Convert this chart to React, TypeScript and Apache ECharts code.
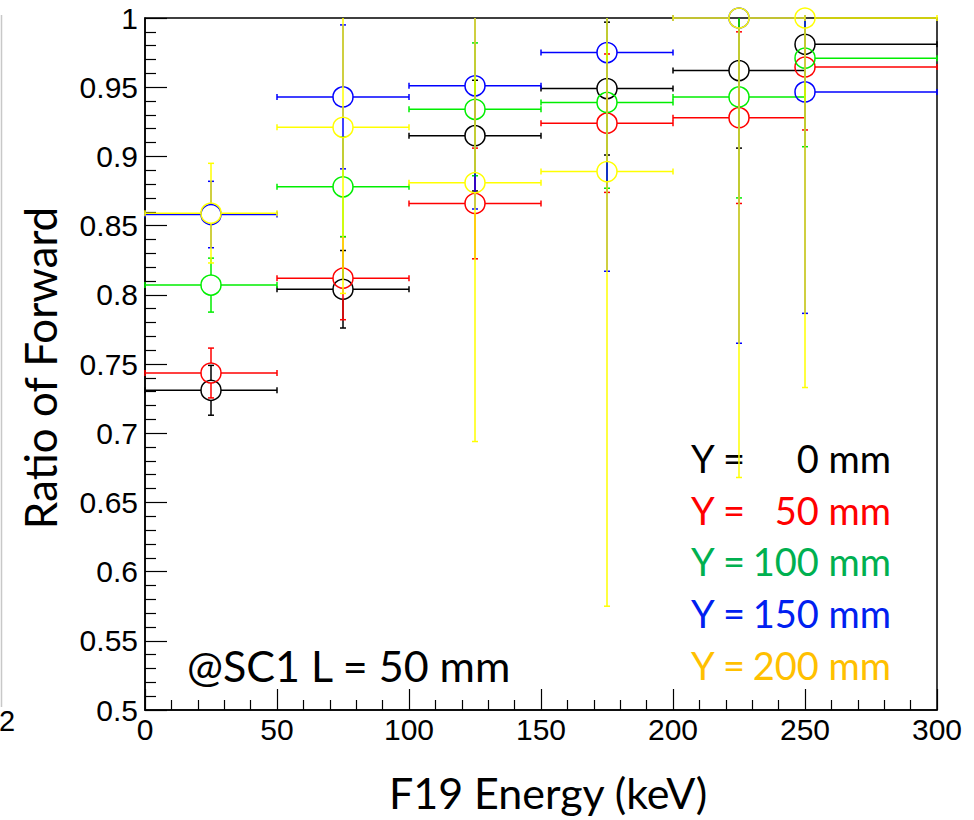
import React, { useEffect, useRef } from "react";
import * as echarts from "echarts";

// ---- data ----
const binCenters = [25, 75, 125, 175, 225, 250];
const binLow = [0, 50, 100, 150, 200, 250];
const binHigh = [50, 100, 150, 200, 250, 300];

const ratioY0 = [0.731, 0.804, 0.915, 0.949, 0.962, 0.981];
const errY0 = [0.018, 0.028, 0.04, 0.048, 0.056, 0.005];

const ratioY50 = [0.7435, 0.812, 0.866, 0.924, 0.928, 0.9646];
const errY50 = [0.018, 0.03, 0.04, 0.05, 0.062, 0.0455];

const ratioY100 = [0.807, 0.878, 0.934, 0.939, 0.943, 0.971];
const errY100 = [0.0195, 0.036, 0.048, 0.062, 0.073, 0.064];

const ratioY150 = [0.858, 0.943, 0.951, 0.975, 1.0, 0.9466];
const errY150 = [0.024, 0.052, 0.089, 0.158, 0.235, 0.16];

const ratioY200 = [0.859, 0.921, 0.881, 0.889, 1.0, 1.0];
const errY200 = [0.036, 0.12, 0.187, 0.314, 0.332, 0.267];

const seriesNames = ["Y = 0 mm", "Y = 50 mm", "Y = 100 mm", "Y = 150 mm", "Y = 200 mm"];
const legendLeft = ["Y =", "Y =", "Y =", "Y =", "Y ="];
const legendRight = ["0 mm", "50 mm", "100 mm", "150 mm", "200 mm"];
const markerColors = ["#000000", "#ff0000", "#00ee00", "#0000ff", "#ffff00"];
const legendColors = ["#000000", "#ff0000", "#00b050", "#0020f0", "#ffc000"];

const yTicksMin = 0.5;
const yTicksMax = 1.0;
const xMin = 0;
const xMax = 300;

const allRatios = [ratioY0, ratioY50, ratioY100, ratioY150, ratioY200];
const allErrs = [errY0, errY50, errY100, errY150, errY200];

const R = 10;
const CAP = 3;

function makeRenderItem(color: string) {
  return (params: any, api: any) => {
    const x = api.value(0);
    const y = api.value(1);
    const e = api.value(2);
    const xl = api.value(3);
    const xh = api.value(4);
    const cs = params.coordSys;
    const yTop = cs.y;
    const yBot = cs.y + cs.height;
    const xLeft = cs.x;
    const xRight = cs.x + cs.width;
    const c = api.coord([x, y]);
    const top = api.coord([x, y + e])[1];
    const bot = api.coord([x, y - e])[1];
    const left = api.coord([xl, y])[0];
    const right = api.coord([xh, y])[0];
    const style = { stroke: color, lineWidth: 1.5, fill: "none" };
    const children: any[] = [];
    const seg = (x1: number, y1: number, x2: number, y2: number) =>
      children.push({ type: "line", shape: { x1, y1, x2, y2 }, style });

    const tClamped = Math.max(top, yTop);
    if (tClamped < c[1] - R) {
      seg(c[0], tClamped, c[0], c[1] - R);
      if (top >= yTop) seg(c[0] - CAP, top, c[0] + CAP, top);
    }
    const bClamped = Math.min(bot, yBot);
    if (bClamped > c[1] + R) {
      seg(c[0], c[1] + R, c[0], bClamped);
      if (bot <= yBot) seg(c[0] - CAP, bot, c[0] + CAP, bot);
    }
    const lClamped = Math.max(left, xLeft);
    if (lClamped < c[0] - R) {
      seg(lClamped, c[1], c[0] - R, c[1]);
      seg(left, c[1] - CAP, left, c[1] + CAP);
    }
    const rClamped = Math.min(right, xRight);
    if (rClamped > c[0] + R) {
      seg(c[0] + R, c[1], rClamped, c[1]);
      seg(right, c[1] - CAP, right, c[1] + CAP);
    }
    children.push({
      type: "circle",
      shape: { cx: c[0], cy: c[1], r: R },
      style: { stroke: color, lineWidth: 1.5, fill: "none" },
    });
    return { type: "group", children };
  };
}

export default function App() {
  const ref = useRef<HTMLDivElement>(null);

  useEffect(() => {
    if (!ref.current) return;
    const chart = echarts.init(ref.current, undefined, { renderer: "svg" });

    const series = allRatios.map((vals, si) => ({
      type: "custom",
      name: seriesNames[si],
      coordinateSystem: "cartesian2d",
      renderItem: makeRenderItem(markerColors[si]),
      encode: { x: 0, y: 1 },
      z: 10 + si,
      data: vals.map((v, i) => [binCenters[i], v, allErrs[si][i], binLow[i], binHigh[i]]),
    }));

    const tickFont = { fontFamily: "Liberation Sans, Arial, sans-serif", fontSize: 30, color: "#000" };

    const graphics: any[] = [
      {
        type: "line",
        shape: { x1: 1.5, y1: 15, x2: 1.5, y2: 707 },
        style: { stroke: "#c8c8c8", lineWidth: 1.5 },
      },
      {
        type: "text",
        x: -1,
        y: 721,
        style: { text: "2", font: "29px 'Liberation Sans'", fill: "#000", textAlign: "left", textVerticalAlign: "middle" },
      },
      {
        type: "text",
        x: 548,
        y: 792,
        style: { text: "F19 Energy (keV)", font: "43px Lato", fill: "#000", textAlign: "center", textVerticalAlign: "middle" },
      },
      {
        type: "text",
        x: 40,
        y: 368,
        rotation: Math.PI / 2,
        style: { text: "Ratio of Forward", font: "44px Lato", fill: "#000", textAlign: "center", textVerticalAlign: "middle" },
      },
      {
        type: "text",
        x: 187,
        y: 665,
        style: { text: "@SC1 L = 50 mm", font: "43px Lato", fill: "#000", textAlign: "left", textVerticalAlign: "middle" },
      },
    ];
    const legendY = [458, 510, 561, 613, 665];
    legendLeft.forEach((t, i) => {
      graphics.push({
        type: "text",
        x: 691,
        y: legendY[i],
        style: { text: t, font: "38px Lato", fill: legendColors[i], textAlign: "left", textVerticalAlign: "middle" },
      });
      graphics.push({
        type: "text",
        x: 891,
        y: legendY[i],
        style: { text: legendRight[i], font: "38px Lato", fill: legendColors[i], textAlign: "right", textVerticalAlign: "middle" },
      });
    });

    chart.setOption({
      animation: false,
      backgroundColor: "#ffffff",
      grid: {
        left: 145,
        top: 18,
        right: 37,
        bottom: 110,
        show: true,
        borderColor: "#000",
        borderWidth: 1.5,
        backgroundColor: "transparent",
      },
      xAxis: {
        type: "value",
        min: xMin,
        max: xMax,
        interval: 50,
        axisLine: { show: true, lineStyle: { color: "#000", width: 1.5 } },
        axisTick: { show: true, inside: true, length: 21, lineStyle: { color: "#000", width: 1.2 } },
        minorTick: { show: true, splitNumber: 5, length: 10, lineStyle: { color: "#000", width: 1.2 } },
        splitLine: { show: false },
        axisLabel: { ...tickFont, margin: 4 },
      },
      yAxis: {
        type: "value",
        min: yTicksMin,
        max: yTicksMax,
        interval: 0.05,
        axisLine: { show: true, lineStyle: { color: "#000", width: 1.5 } },
        axisTick: { show: true, inside: true, length: 22, lineStyle: { color: "#000", width: 1.2 } },
        minorTick: { show: true, splitNumber: 5, length: 11, lineStyle: { color: "#000", width: 1.2 } },
        splitLine: { show: false },
        axisLabel: { ...tickFont, margin: 7, formatter: (v: number) => String(Math.round(v * 100) / 100) },
      },
      series,
      graphic: graphics,
    } as any);

    return () => chart.dispose();
  }, []);

  return <div ref={ref} style={{ position: "absolute", left: 0, top: 0, width: 974, height: 820 }} />;
}
